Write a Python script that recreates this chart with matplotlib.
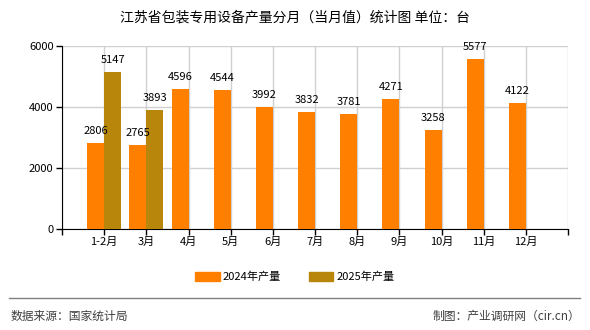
import numpy as np
import matplotlib
matplotlib.use("Agg")
import matplotlib.pyplot as plt
import matplotlib.patches as mpatches

plt.rcParams['font.family'] = ['Noto Sans CJK SC', 'DejaVu Sans']

months = ['1-2月', '3月', '4月', '5月', '6月', '7月', '8月', '9月', '10月', '11月', '12月']
vals_2024 = [2806, 2765, 4596, 4544, 3992, 3832, 3781, 4271, 3258, 5577, 4122]
vals_2025 = [5147, 3893]

C24 = '#FF8000'
C25 = '#B8860B'

fig = plt.figure(figsize=(5.9, 3.3), dpi=100)
ax = fig.add_axes([62 / 590, 1 - 229 / 330, (568 - 62) / 590, (229 - 46) / 330])

x = np.arange(len(months))
w = 0.4
ax.bar(x - w / 2, vals_2024, width=w, color=C24, zorder=3)
x25 = np.arange(len(vals_2025))
ax.bar(x25 + w / 2, vals_2025, width=w, color=C25, zorder=3)

for xi, v in zip(x, vals_2024):
    ax.text(xi - w / 2, v + 230, str(v), ha='center', va='bottom', fontsize=8, zorder=4)
for xi, v in zip(x25, vals_2025):
    ax.text(xi + w / 2, v + 230, str(v), ha='center', va='bottom', fontsize=8, zorder=4)

ax.set_xlim(-1, 11)
ax.set_ylim(0, 6000)
ax.set_yticks([0, 2000, 4000, 6000])
ax.set_xticks(list(range(-1, 12)))
ax.set_xticklabels([''] + months + [''])
ax.tick_params(axis='both', labelsize=8, length=4, width=1, color='black', pad=2)
ax.grid(True, color='#d0d0d0', lw=1, zorder=0)
for s in ['top', 'right']:
    ax.spines[s].set_visible(False)
ax.spines['left'].set_color('black')
ax.spines['bottom'].set_color('black')

fig.text(0.5, 1 - 17 / 330, '江苏省包装专用设备产量分月（当月值）统计图 单位：台',
         ha='center', va='center', fontsize=10)

handles = [mpatches.Patch(color=C24, label='2024年产量'),
           mpatches.Patch(color=C25, label='2025年产量')]
fig.legend(handles=handles, loc='center', bbox_to_anchor=(0.5, 1 - 277 / 330), ncol=2,
           frameon=False, fontsize=8, handlelength=2.2, handleheight=0.8, columnspacing=2.5,
           handletextpad=0.3)

fig.add_artist(plt.Line2D([9 / 590, 580 / 590], [1 - 298 / 330, 1 - 298 / 330],
                          color='#808080', lw=1))
fig.text(11 / 590, 1 - 316 / 330, '数据来源：国家统计局', ha='left', va='center',
         fontsize=8.5, color='#404040')
fig.text(580 / 590, 1 - 316 / 330, '制图：产业调研网（cir.cn）', ha='right', va='center',
         fontsize=8.5, color='#404040')

fig.savefig('out.png', dpi=100)
